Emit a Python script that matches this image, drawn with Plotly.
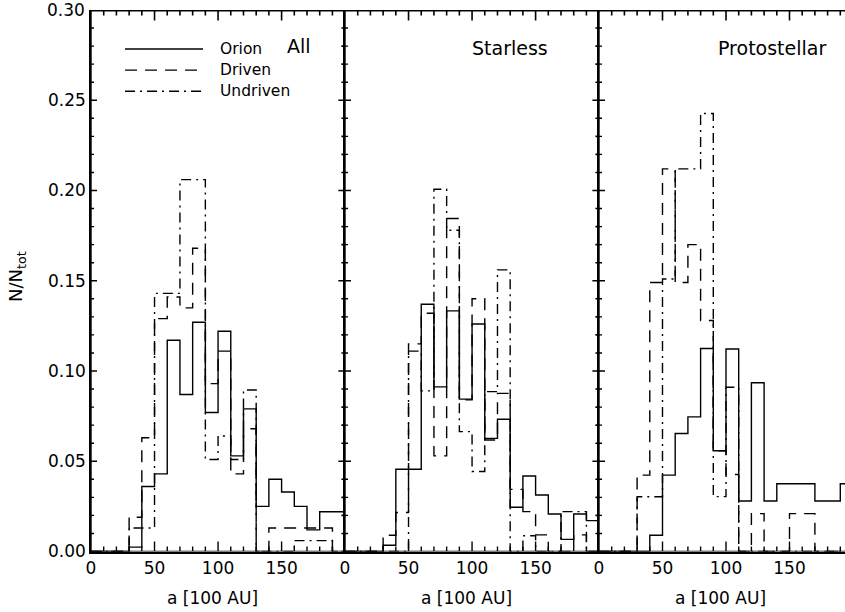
import numpy as np
import plotly.graph_objects as go

# Semi-major axis bins, in units of 100 AU
bin_edges = list(range(0, 201, 10))

# Normalised counts per bin (N/N_tot), one value per 10-unit bin from 0 to 200
all_orion = [0, 0, 0, 0.0024, 0.036, 0.043, 0.117, 0.087, 0.127, 0.077,
             0.122, 0.053, 0.079, 0.025, 0.040, 0.033, 0.025, 0.012, 0.022, 0.022]
all_driven = [0, 0, 0, 0.019, 0.063, 0.129, 0.141, 0.135, 0.168, 0.093,
              0.111, 0.043, 0.068, 0, 0.013, 0.013, 0.013, 0.013, 0.013, 0]
all_undriven = [0, 0, 0, 0.013, 0.013, 0.143, 0.143, 0.206, 0.206, 0.051,
                0.064, 0.051, 0.0895, 0, 0, 0, 0.006, 0.006, 0.006, 0]

sl_orion = [0, 0, 0, 0.0035, 0.0456, 0.0456, 0.137, 0.0912, 0.1333, 0.0844,
            0.126, 0.0627, 0.0733, 0.0245, 0.0418, 0.0313, 0.0208, 0.0067, 0.0208, 0.0171]
sl_driven = [0, 0, 0, 0.009, 0.0216, 0.115, 0.132, 0.053, 0.1845, 0.084,
             0.140, 0.0618, 0.0876, 0.0344, 0.0221, 0.0092, 0, 0, 0.0092, 0]
sl_undriven = [0, 0, 0, 0, 0, 0.111, 0.089, 0.2007, 0.178, 0.0664,
               0.0443, 0.0886, 0.156, 0, 0.0087, 0, 0, 0.0221, 0.0221, 0]

ps_orion = [0, 0, 0, 0, 0.009, 0.0423, 0.0654, 0.0746, 0.1125, 0.0558,
            0.1122, 0.028, 0.0935, 0.028, 0.0375, 0.0375, 0.0375, 0.028, 0.028, 0.0375]
ps_driven = [0, 0, 0, 0.0423, 0.149, 0.212, 0.149, 0.170, 0.128, 0.0558,
             0.0427, 0, 0.021, 0, 0, 0.021, 0.021, 0, 0, 0]
ps_undriven = [0, 0, 0, 0.0303, 0.0303, 0.151, 0.212, 0.212, 0.2427, 0.0304,
               0.091, 0, 0, 0, 0, 0, 0, 0, 0, 0]

panel_titles = ["All", "Starless", "Protostellar"]
series_names = ["Orion", "Driven", "Undriven"]
x_major = [0, 50, 100, 150, 200]
y_major = [0.00, 0.05, 0.10, 0.15, 0.20, 0.25, 0.30]
x_tick_step, y_tick_step = 10, 0.01

panels = [
    (all_orion, all_driven, all_undriven),
    (sl_orion, sl_driven, sl_undriven),
    (ps_orion, ps_driven, ps_undriven),
]

FONT = "DejaVu Sans"
W, H = 845, 612
LEFT, PANEL_W = 91, 254
TOP, BOTTOM = 10, 551.5
PLOT_H = BOTTOM - TOP
YMAX = 0.30
DASHES = ["solid", "12px,8px", "10px,5px,2px,5px"]
FRAME_W = 1.6
EDGE_W = 1.4

fig = go.Figure()

for p, series in enumerate(panels):
    ax = "" if p == 0 else str(p + 1)
    for name, vals, dash in zip(series_names, series, DASHES):
        fig.add_trace(go.Scatter(
            x=bin_edges, y=list(vals) + [vals[-1]],
            mode="lines", line=dict(shape="hv", color="black", width=1.4, dash=dash),
            name=name, showlegend=False, hoverinfo="skip",
            xaxis="x" + ax, yaxis="y" + ax,
        ))

xmaxes = [199.9, 199.9, 200 * (W - (LEFT + PANEL_W * 2)) / PANEL_W]


def comb(start, end, positions, base, tip, along_x):
    """Continuous edge path with inward spikes at the given tick positions."""
    a, b = [start], [base]
    for v, t in positions:
        a += [v, v, v]
        b += [base, t, base]
    a.append(end)
    b.append(base)
    return (a, b) if along_x else (b, a)


def edge_trace(xy, ax):
    return go.Scatter(x=xy[0], y=xy[1], mode="lines",
                      line=dict(color="black", width=EDGE_W),
                      showlegend=False, hoverinfo="skip",
                      xaxis="x" + ax, yaxis="y" + ax)


# Panel edges with inward ticks (major every 50 / 0.05, minor every 10 / 0.01)
for p in range(3):
    ax = "" if p == 0 else str(p + 1)
    xmax = xmaxes[p]
    px_per_x = PANEL_W / 200.0
    px_per_y = PLOT_H / YMAX
    top = YMAX - 0.6 / px_per_y
    right = xmax - 0.6 / px_per_x

    xticks = []
    for k in range(1, 20):
        v = k * x_tick_step
        if v >= xmax:
            break
        ln = 10 if v in x_major else 5
        xticks.append((v, ln / px_per_y))
    yticks = []
    for k in range(1, 30):
        v = round(k * y_tick_step, 2)
        ln = 6 if k % 5 == 0 else 3
        yticks.append((v, ln / px_per_x))

    # bottom and top edges
    fig.add_trace(edge_trace(comb(0, xmax, [(v, d) for v, d in xticks], 0, None, True), ax)
                  if False else edge_trace(
                      comb(0, xmax, [(v, d) for v, d in xticks], 0, None, True), ax))
    bx, by = comb(0, xmax, [(v, d) for v, d in xticks], 0, None, True)
    by = [0 if t is None else t for t in by]
    fig.data[-1].update(x=bx, y=[y if y is not None else 0 for y in by])
    tx, ty = [0], [top]
    for v, d in xticks:
        tx += [v, v, v]
        ty += [top, top - d, top]
    tx.append(xmax)
    ty.append(top)
    fig.add_trace(edge_trace((tx, ty), ax))
    fig.data[-1].update(line_width=FRAME_W)

    # left edge
    lx, ly = [0], [0]
    for v, d in yticks:
        lx += [0, d, 0]
        ly += [v, v, v]
    lx.append(0)
    ly.append(YMAX)
    fig.add_trace(edge_trace((lx, ly), ax))

    # right edge (the last panel runs past the visible area)
    if p < 2:
        rx, ry = [right], [0]
        for v, d in yticks:
            rx += [right, right - d, right]
            ry += [v, v, v]
        rx.append(right)
        ry.append(top)
        fig.add_trace(edge_trace((rx, ry), ax))
        fig.data[-1].update(line_width=FRAME_W)

# bottom edge combs: rebuild cleanly with explicit spike heights
for tr in fig.data:
    pass

ydom = [(H - BOTTOM) / H, (H - TOP) / H]
layout = dict(width=W, height=H, margin=dict(l=0, r=0, t=0, b=0),
              paper_bgcolor="white", plot_bgcolor="white",
              font=dict(family=FONT, color="black", size=17), showlegend=False)

for p in range(3):
    ax = "" if p == 0 else str(p + 1)
    x0 = (LEFT + PANEL_W * p) / W
    x1 = min(1.0, (LEFT + PANEL_W * (p + 1)) / W)
    layout["xaxis" + ax] = dict(
        domain=[x0, x1], range=[0, xmaxes[p]], anchor="y" + ax,
        tickmode="array", tickvals=x_major[:-1], ticktext=[str(v) for v in x_major[:-1]],
        ticks="", showline=True, linewidth=FRAME_W, linecolor="black",
        showgrid=False, zeroline=False, tickfont=dict(size=17), automargin=False,
    )
    layout["yaxis" + ax] = dict(
        domain=ydom, range=[0, YMAX], anchor="x" + ax,
        tickmode="array", tickvals=y_major[:-1], ticktext=[f"{v:.2f}" for v in y_major[:-1]],
        showticklabels=(p == 0), ticks="",
        showline=True, linewidth=FRAME_W, linecolor="black",
        showgrid=False, zeroline=False, tickfont=dict(size=17), automargin=False,
    )

fig.update_layout(**layout)

annotations = []
shapes = []

# Top label of the y scale, placed on the axis itself
annotations.append(dict(text=f"{y_major[-1]:.2f}", x=0, y=y_major[-1], xref="x domain", yref="y",
                        xanchor="right", yanchor="middle", xshift=-4, showarrow=False,
                        font=dict(size=17)))

# Panel labels
title_pos = [(0.764, 0.933), (0.492, 0.930), (0.476, 0.930)]
for p, (t, (tx, ty)) in enumerate(zip(panel_titles, title_pos)):
    ax = "" if p == 0 else str(p + 1)
    annotations.append(dict(text=t, x=tx, y=ty, xref=f"x{ax} domain", yref=f"y{ax} domain",
                            xanchor="left", yanchor="middle", showarrow=False,
                            font=dict(size=19)))

# Key for the three line styles in the first panel
key_y = [0.928, 0.889, 0.850]
for name, dash, ky in zip(series_names, DASHES, key_y):
    shapes.append(dict(type="line", xref="x domain", yref="y domain",
                       x0=0.134, x1=0.441, y0=ky, y1=ky,
                       line=dict(color="black", width=1.4, dash=dash)))
    annotations.append(dict(text=name, x=0.50, y=ky, xref="x domain", yref="y domain",
                            xanchor="left", yanchor="middle", showarrow=False,
                            font=dict(size=15.5)))

# Axis titles
for p in range(3):
    cx = (LEFT + PANEL_W * p + PANEL_W / 2 - 6) / W
    annotations.append(dict(text="a [100 AU]", x=cx, y=(H - 598) / H, xref="paper", yref="paper",
                            xanchor="center", yanchor="middle", showarrow=False,
                            font=dict(size=17)))
annotations.append(dict(text="N/N<sub>tot</sub>", x=17 / W, y=(H - 277) / H,
                        xref="paper", yref="paper", textangle=-90,
                        xanchor="center", yanchor="middle", showarrow=False,
                        font=dict(size=18)))

fig.update_layout(annotations=annotations, shapes=shapes)
fig.write_html("out.html")
